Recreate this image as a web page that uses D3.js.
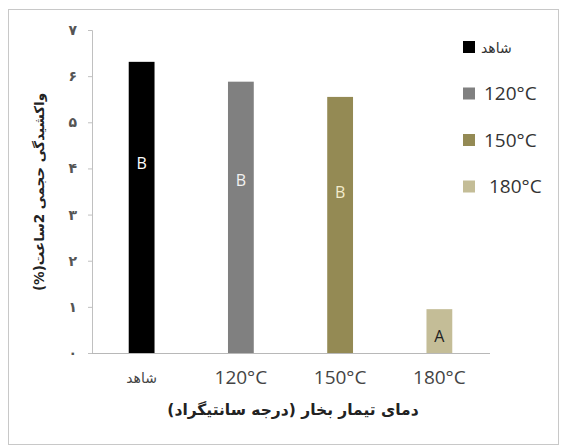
<!DOCTYPE html>
<html>
<head>
<meta charset="utf-8">
<script src="https://cdn.jsdelivr.net/npm/d3@7"></script>
<style>
  html, body { margin: 0; padding: 0; background: #ffffff; }
  svg { display: block; }
</style>
</head>
<body>
<script>
// Volumetric swelling after 2 hours for each steam treatment temperature
const categories = ["شاهد", "120°C", "150°C", "180°C"];
const values = [6.31, 5.88, 5.55, 0.95];
const groupLetters = ["B", "B", "B", "A"];
// vertical position (in data units) where each group letter sits
const letterLevels = [4.1, 3.75, 3.48, 0.37];
const yTicks = [0, 1, 2, 3, 4, 5, 6, 7];
const yTickLabels = ["٠", "۱", "۲", "۳", "۴", "۵", "۶", "۷"];
const legendLabels = ["شاهد", "120°C", "150°C", " 180°C"];
const barColors = ["#000000", "#808080", "#948a54", "#c4bd97"];
const letterColors = ["#ffffff", "#f2f2f2", "#f3eccc", "#222222"];
const xTitle = "دمای تیمار بخار (درجه سانتیگراد)";
const yTitle = "واکشیدگی حجمی 2ساعت(%)";

const W = 566, H = 448;
const svg = d3.select("body").append("svg").attr("width", W).attr("height", H);

// outer frame
svg.append("rect").attr("x", 8.5).attr("y", 9.5).attr("width", 550).attr("height", 435)
  .attr("fill", "#ffffff").attr("stroke", "#c8c8c8").attr("stroke-width", 1);

const plot = { left: 92, right: 490, top: 30, bottom: 353 };

const x = d3.scaleBand().domain(categories).range([plot.left, plot.right - 1]).paddingInner(0.74).paddingOuter(0.37);
const y = d3.scaleLinear().domain([0, 7]).range([plot.bottom, plot.top]);

// y axis
const yAxis = d3.axisLeft(y).tickValues(yTicks).tickSize(4).tickFormat((d, i) => yTickLabels[i]);
const gy = svg.append("g").attr("transform", `translate(${plot.left},0)`).call(yAxis);
gy.select(".domain").attr("stroke", "#c0c0c0");
gy.selectAll(".tick line").attr("stroke", "#c0c0c0");
gy.selectAll(".tick text").attr("x", -15).attr("fill", "#555")
  .style("font-family", "'DejaVu Sans', sans-serif").style("font-size", "14px").style("font-weight", "bold");

// bars
svg.append("g").selectAll("rect").data(values).join("rect")
  .attr("x", (d, i) => x(categories[i]))
  .attr("y", d => y(d))
  .attr("width", x.bandwidth())
  .attr("height", d => y(0) - y(d))
  .attr("fill", (d, i) => barColors[i]);

// group letters inside bars
svg.append("g").selectAll("text").data(groupLetters).join("text")
  .attr("x", (d, i) => x(categories[i]) + x.bandwidth() / 2)
  .attr("y", (d, i) => y(letterLevels[i]))
  .attr("dy", "0.35em")
  .attr("text-anchor", "middle")
  .attr("fill", (d, i) => letterColors[i])
  .style("font-family", "'Open Sans', sans-serif")
  .style("font-size", "16px")
  .text(d => d);

// x axis baseline and category labels
const xAxis = d3.axisBottom(x).tickSize(0).tickPadding(24);
const gx = svg.append("g").attr("transform", `translate(0,${plot.bottom})`).call(xAxis);
gx.select(".domain").attr("stroke", "#b8b8b8").attr("d", `M${plot.left},0.5H${plot.right}`);
gx.selectAll(".tick text").attr("fill", "#444")
  .style("font-family", (d, i) => i === 0 ? "'DejaVu Sans', sans-serif" : "'Open Sans', sans-serif")
  .style("font-size", (d, i) => i === 0 ? "14px" : "19px")
  .attr("dy", (d, i) => i === 0 ? "0.45em" : "0.35em");

// axis titles
svg.append("text").attr("x", 293).attr("y", 415).attr("text-anchor", "middle")
  .attr("fill", "#222").style("font-family", "'DejaVu Sans', sans-serif")
  .style("font-size", "15.5px").style("font-weight", "bold").attr("direction", "rtl")
  .text(xTitle);

svg.append("text").attr("transform", "translate(44,192) rotate(-90)").attr("text-anchor", "middle")
  .attr("fill", "#222").style("font-family", "'DejaVu Sans', sans-serif")
  .style("font-size", "13.5px").style("font-weight", "bold").attr("direction", "rtl")
  .text(yTitle);

// legend
const legend = svg.append("g").selectAll("g").data(legendLabels).join("g")
  .attr("transform", (d, i) => `translate(463,${47 + i * 46.5})`);
legend.append("rect").attr("x", 0).attr("y", -6).attr("width", 12).attr("height", 12)
  .attr("fill", (d, i) => barColors[i]);
legend.append("text").attr("x", (d, i) => i === 0 ? 18 : 21).attr("y", 0)
  .attr("dy", (d, i) => i === 0 ? "0.45em" : "0.36em")
  .attr("fill", "#333")
  .style("font-family", (d, i) => i === 0 ? "'DejaVu Sans', sans-serif" : "'Open Sans', sans-serif")
  .style("font-size", (d, i) => i === 0 ? "14px" : "19px")
  .style("white-space", "pre")
  .text(d => d);
</script>
</body>
</html>
